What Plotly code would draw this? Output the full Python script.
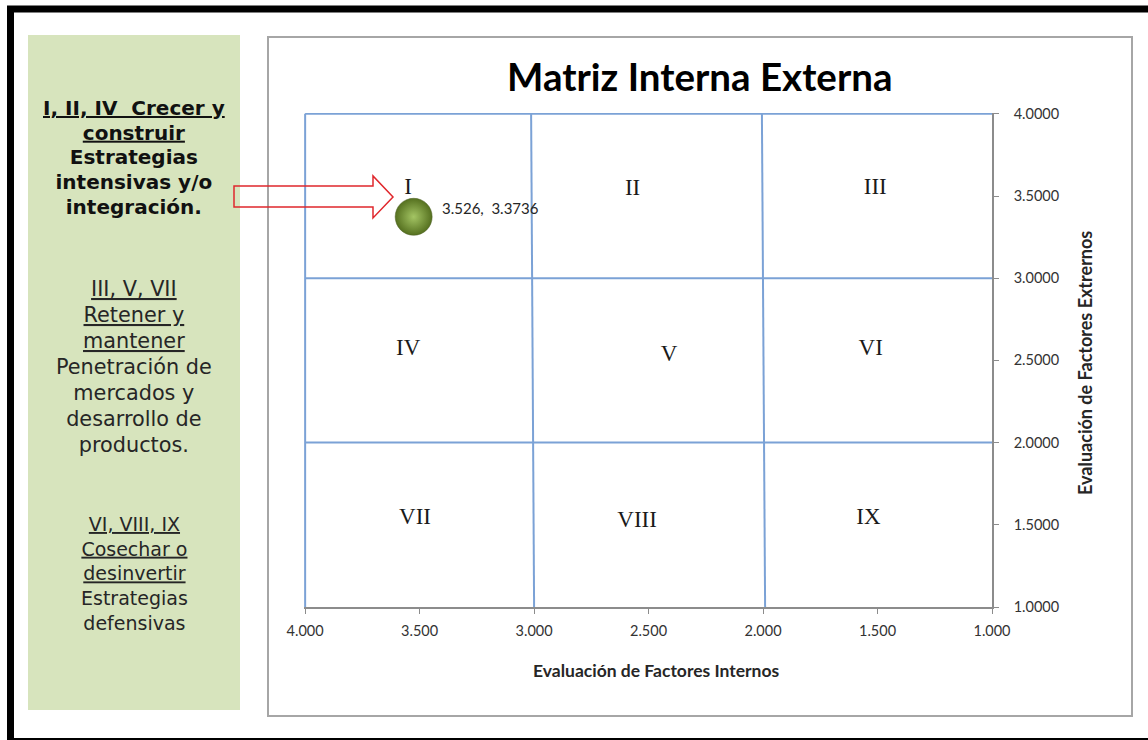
import plotly.graph_objects as go

# Internal-External matrix: company position
ife_score = 3.526    # Evaluación de Factores Internos
efe_score = 3.3736   # Evaluación de Factores Externos

# Zone labels (Roman numerals) and their positions in the grid
zone_names = ["I", "II", "III", "IV", "V", "VI", "VII", "VIII", "IX"]
zone_x = [3.55, 2.57, 1.51, 3.55, 2.41, 1.53, 3.52, 2.55, 1.54]
zone_y = [3.55, 3.54, 3.55, 2.57, 2.53, 2.57, 1.54, 1.52, 1.54]

# Grid divider segments (x0, y0, x1, y1)
divider_segments = [
    (4.0, 1.0, 4.0, 4.0),
    (4.0, 4.0, 1.0, 4.0),
    (3.0, 1.0, 3.013, 4.0),
    (1.991, 1.0, 2.005, 4.0),
    (4.0, 3.0, 1.0, 3.0),
    (4.0, 2.0, 1.0, 2.0),
]

x_ticks = [4.0, 3.5, 3.0, 2.5, 2.0, 1.5, 1.0]
y_ticks = [1.0, 1.5, 2.0, 2.5, 3.0, 3.5, 4.0]

W, H = 1148, 740
PL, PR, PT, PB = 304, 992, 113, 607  # plot area in pixels


def px(x):
    return (x - PL) / (PR - PL)


def py(y):
    return (PB - y) / (PB - PT)


fig = go.Figure()

for x0, y0, x1, y1 in divider_segments:
    fig.add_trace(go.Scatter(
        x=[x0, x1], y=[y0, y1], mode="lines",
        line=dict(color="#7BA2D6", width=2),
        hoverinfo="skip", showlegend=False,
    ))

fig.add_trace(go.Scatter(
    x=zone_x, y=zone_y, mode="text", text=zone_names,
    textposition="middle center",
    textfont=dict(family="Liberation Serif", size=23, color="#1a1a1a"),
    hoverinfo="skip", showlegend=False,
))

fig.add_trace(go.Scatter(
    x=[ife_score], y=[efe_score], mode="markers",
    marker=dict(size=37, color="#55701F",
                gradient=dict(type="radial", color="#A4C564"),
                line=dict(width=0.5, color="#4A5E22")),
    showlegend=False,
))

shapes = []
# outer black frame
shapes.append(dict(type="rect", xref="paper", yref="paper",
                   x0=px(10.5), x1=px(1250), y0=py(9), y1=py(741.5),
                   line=dict(color="black", width=7), layer="below"))
# strategy panel
shapes.append(dict(type="rect", xref="paper", yref="paper",
                   x0=px(28), x1=px(240), y0=py(35), y1=py(710),
                   fillcolor="#D7E4BD", line=dict(width=0), layer="below"))
# chart frame
shapes.append(dict(type="rect", xref="paper", yref="paper",
                   x0=px(268), x1=px(1132), y0=py(37), y1=py(716),
                   fillcolor="white", line=dict(color="#A6A6A6", width=2), layer="below"))
# arrow pointing to zone I
arrow_pts = [(234, 186), (373, 186), (373, 176), (393, 197),
             (373, 218), (373, 207), (234, 207)]
path = "M " + " L ".join(f"{px(a):.5f},{py(b):.5f}" for a, b in arrow_pts) + " Z"
shapes.append(dict(type="path", xref="paper", yref="paper", path=path,
                   line=dict(color="#E0272C", width=1.5), layer="above"))


def sized(lines, size):
    return "<br>".join(f"<span style='font-size:{size}px'>{ln}</span>" for ln in lines)


annotations = []
sans = "DejaVu Sans"
nb = "\u00a0"
annotations.append(dict(
    xref="paper", yref="paper", x=px(134), y=py(157.5),
    xanchor="center", yanchor="middle", showarrow=False, align="center",
    text=sized([f"<b><u>I, II, IV{nb}{nb}Crecer y</u></b>", "<b><u>construir</u></b>",
                "<b>Estrategias</b>", "<b>intensivas y/o</b>", "<b>integración.</b>"], 20),
    font=dict(family=sans, size=19, color="#111111"),
))
annotations.append(dict(
    xref="paper", yref="paper", x=px(134), y=py(366.5),
    xanchor="center", yanchor="middle", showarrow=False, align="center",
    text=sized(["<u>III, V, VII</u>", "<u>Retener y</u>", "<u>mantener</u>",
                "Penetración de", "mercados y", "desarrollo de", "productos."], 20.8),
    font=dict(family=sans, size=20, color="#262626"),
))
annotations.append(dict(
    xref="paper", yref="paper", x=px(134), y=py(573.5),
    xanchor="center", yanchor="middle", showarrow=False, align="center",
    text=("<u>VI, VIII, IX</u><br><u>Cosechar o</u><br><u>desinvertir</u><br>"
          "Estrategias<br>defensivas"),
    font=dict(family=sans, size=19, color="#262626"),
))
# chart title
annotations.append(dict(
    xref="paper", yref="paper", x=px(700), y=py(76),
    xanchor="center", yanchor="middle", showarrow=False,
    text="<b>Matriz Interna Externa</b>",
    font=dict(family="Lato", size=38.5, color="black"),
))
# axis titles
annotations.append(dict(
    xref="paper", yref="paper", x=px(656), y=py(670),
    xanchor="center", yanchor="middle", showarrow=False,
    text="<b>Evaluación de Factores Internos</b>",
    font=dict(family="Lato", size=17.5, color="#262626"),
))
annotations.append(dict(
    xref="paper", yref="paper", x=px(1085), y=py(363),
    xanchor="center", yanchor="middle", showarrow=False, textangle=-90,
    text="<b>Evaluación de Factores Extrernos</b>",
    font=dict(family="Lato", size=18, color="#262626"),
))
# data label of the bubble
annotations.append(dict(
    x=ife_score, y=efe_score, xref="x", yref="y",
    xanchor="left", yanchor="middle", xshift=26, yshift=9, showarrow=False,
    text=f"{ife_score:g},{nb}{nb}{efe_score:g}",
    font=dict(family="Lato", size=15, color="#262626"),
))

fig.update_layout(
    width=W, height=H,
    margin=dict(l=PL, r=W - PR, t=PT, b=H - PB, pad=0),
    paper_bgcolor="white", plot_bgcolor="rgba(0,0,0,0)",
    shapes=shapes, annotations=annotations, showlegend=False,
    xaxis=dict(range=[4.005, 1.0], tickvals=x_ticks, tickformat=".3f",
               showgrid=False, zeroline=False, showline=True,
               linecolor="#8C8C8C", linewidth=1.5, ticks="outside", ticklen=5,
               tickcolor="#8C8C8C", ticklabelstandoff=5,
               tickfont=dict(family="Lato", size=14.5, color="#333333")),
    yaxis=dict(range=[1.0, 4.005], tickvals=y_ticks, tickformat=".4f",
               side="right", showgrid=False, zeroline=False, showline=True,
               linecolor="#8C8C8C", linewidth=1.5, ticks="outside", ticklen=5,
               tickcolor="#8C8C8C", ticklabelstandoff=12,
               tickfont=dict(family="Lato", size=14.5, color="#333333")),
)

fig.write_html("out.html")
